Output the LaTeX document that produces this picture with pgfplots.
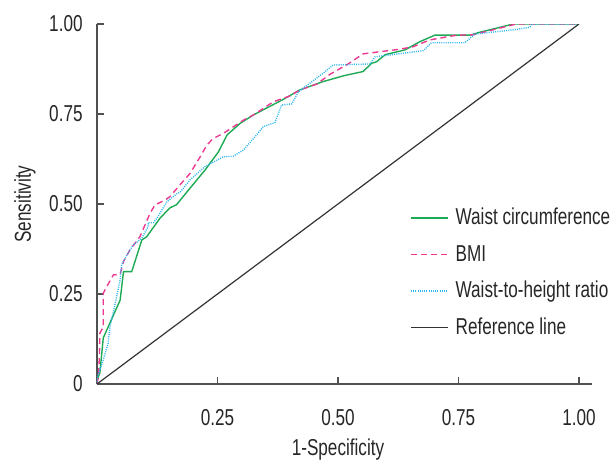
\documentclass[border=0pt]{standalone}
\usepackage{fontspec}
\setmainfont{Liberation Sans}[FakeStretch=0.745]
\usepackage{pgfplots}
\pgfplotsset{compat=1.18}
\definecolor{wcgreen}{HTML}{1EAA55}
\definecolor{bmipink}{HTML}{EC3A94}
\definecolor{whrblue}{HTML}{2CB5EE}
\definecolor{refgray}{HTML}{333333}
\definecolor{axgray}{HTML}{505050}

\begin{document}
\begin{tikzpicture}
\begin{axis}[
  scale only axis, width=247.5pt, height=180pt,
  xmin=0, xmax=1.027, ymin=0, ymax=1,
  axis lines=left, axis line style={-, axgray, line width=0.8pt},
  tick align=inside, major tick length=3.5pt,
  tick style={axgray, line width=0.8pt},
  xtick={0.25,0.5,0.75,1}, xticklabels={0.25,0.50,0.75,1.00},
  ytick={0,0.25,0.5,0.75,1}, yticklabels={0,0.25,0.50,0.75,1.00},
  ticklabel style={font=\fontsize{11.5}{13}\selectfont, text=black!85},
  xticklabel style={anchor=north, inner sep=0pt, yshift=-12.5pt},
  yticklabel style={anchor=east, inner sep=0pt, xshift=-7pt},
  xlabel={1-Specificity}, ylabel={Sensitivity},
  label style={font=\fontsize{11.5}{13}\selectfont, text=black!85},
  xlabel style={at={(axis description cs:0.4868,-0.15)}, anchor=north, inner sep=0pt},
  ylabel style={at={(axis description cs:-0.1455,0.5)}, anchor=center, inner sep=0pt},
  legend style={at={(axis description cs:0.632,0.499)}, anchor=north west,
    draw=none, fill=none, inner sep=0pt, row sep=5pt, column sep=1.5pt,
    nodes={font=\fontsize{11.5}{13}\selectfont, text=black!85,
      text height=1.5ex, text depth=0.25ex, inner sep=2pt}},
  legend cell align=left,
  legend image code/.code={\draw[#1] (0pt,0pt) -- (18.5pt,0pt);},
]
% Waist circumference
\addplot[wcgreen, line width=0.7pt] coordinates {
  (0,0) (0,0.011) (0.006,0.031) (0.013,0.128) (0.048,0.233) (0.055,0.312)
  (0.072,0.312) (0.093,0.400) (0.103,0.409) (0.131,0.461) (0.151,0.489)
  (0.165,0.498) (0.193,0.544) (0.224,0.594) (0.252,0.645) (0.270,0.692)
  (0.297,0.724) (0.324,0.747) (0.387,0.791) (0.421,0.817) (0.469,0.840)
  (0.511,0.856) (0.552,0.868) (0.570,0.891) (0.580,0.895) (0.598,0.915)
  (0.639,0.928) (0.670,0.951) (0.701,0.969) (0.774,0.969) (0.791,0.976)
  (0.864,1.000) (1,1)
};
\addlegendentry{Waist circumference}
% BMI
\addplot[bmipink, line width=0.7pt, dash pattern=on 3pt off 2pt] coordinates {
  (0,0) (0.003,0.020) (0.005,0.076) (0.006,0.141) (0.013,0.159) (0.013,0.252)
  (0.020,0.270) (0.034,0.303) (0.048,0.305) (0.055,0.340) (0.068,0.372)
  (0.089,0.409) (0.110,0.474) (0.120,0.497) (0.141,0.511) (0.151,0.520)
  (0.172,0.553) (0.193,0.585) (0.214,0.631) (0.228,0.664) (0.241,0.682)
  (0.262,0.696) (0.304,0.733) (0.324,0.747) (0.366,0.784) (0.400,0.800)
  (0.421,0.817) (0.456,0.833) (0.483,0.860) (0.521,0.889) (0.552,0.917)
  (0.587,0.923) (0.629,0.930) (0.656,0.937) (0.691,0.956) (0.746,0.969)
  (0.780,0.970) (0.870,1.000) (1,1)
};
\addlegendentry{BMI}
% Waist-to-height ratio
\addplot[whrblue, line width=0.7pt, dash pattern=on 0.5pt off 0.6pt] coordinates {
  (0,0) (0.001,0.020) (0.013,0.067) (0.023,0.113) (0.027,0.159) (0.037,0.219)
  (0.048,0.289) (0.051,0.331) (0.062,0.358) (0.075,0.386) (0.093,0.405)
  (0.106,0.437) (0.106,0.448) (0.117,0.448) (0.124,0.460) (0.145,0.506)
  (0.165,0.528) (0.172,0.532) (0.193,0.567) (0.224,0.604) (0.262,0.631)
  (0.283,0.633) (0.304,0.650) (0.331,0.692) (0.345,0.715) (0.369,0.726)
  (0.383,0.775) (0.404,0.778) (0.418,0.812) (0.469,0.863) (0.490,0.886)
  (0.566,0.889) (0.577,0.909) (0.608,0.914) (0.677,0.926) (0.694,0.948)
  (0.763,0.948) (0.784,0.972) (0.871,0.985) (0.898,0.991) (0.902,1.000) (1,1)
};
\addlegendentry{Waist-to-height ratio}
% Reference line
\addplot[refgray, line width=0.6pt] coordinates {(0,0) (1,1)};
\addlegendentry{Reference line}
\end{axis}
\pgfresetboundingbox
\path[use as bounding box] (-48.5pt,-38.5pt) rectangle (258.5pt,192pt);
\end{tikzpicture}
\end{document}
